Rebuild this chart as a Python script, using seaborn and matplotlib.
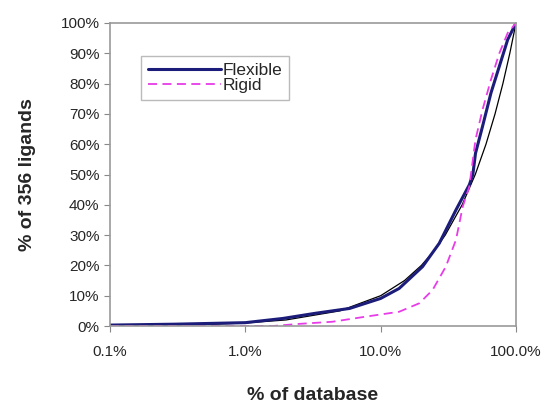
import matplotlib
matplotlib.use("Agg")
import matplotlib.pyplot as plt
import seaborn as sns
import pandas as pd
from matplotlib.ticker import FuncFormatter, FixedLocator

# ── data ───────────────────────────────────────────────────────────────
flex_x = [0.1, 0.3, 1.0, 1.9, 3.3, 5.9, 10.0, 13.7, 20.4, 27.1, 36.0, 45.2,
          48.0, 50.2, 56.6, 65.3, 75.3, 86.8, 100.0]
flex_y = [0.3, 0.6, 1.1, 2.5, 4.2, 5.8, 9.1, 12.4, 19.6, 27.3, 38.3, 46.6,
          50.0, 57.0, 65.9, 76.9, 85.7, 94.5, 100.0]

rigid_x = [0.1, 1.0, 1.6, 2.5, 4.4, 7.8, 13.7, 19.3, 24.2, 30.3, 36.0, 40.4,
           45.2, 50.2, 56.6, 65.3, 75.3, 86.8, 100.0]
rigid_y = [0.0, 0.0, 0.0, 0.7, 1.4, 3.1, 4.7, 7.5, 11.9, 19.6, 28.4, 39.4,
           46.0, 61.5, 71.4, 81.3, 90.0, 96.7, 100.0]

random_x = [0.1, 0.2, 0.5, 1, 2, 5, 10, 15, 20, 25, 30, 40, 50, 60, 70, 80, 90, 100]
random_y = [0.1, 0.2, 0.5, 1, 2, 5, 10, 15, 20, 25, 30, 40, 50, 60, 70, 80, 90, 100]

x_ticks = [0.1, 1.0, 10.0, 100.0]
y_ticks = [0, 10, 20, 30, 40, 50, 60, 70, 80, 90, 100]

# ── plot ───────────────────────────────────────────────────────────────
sns.set_style("white")
plt.rcParams["font.family"] = ["Liberation Sans", "DejaVu Sans"]

fig = plt.figure(figsize=(5.49, 4.07), dpi=100)
ax = fig.add_axes([110 / 549, 1 - 326 / 407, 406 / 549, 303 / 407])

sns.lineplot(x=random_x, y=random_y, ax=ax, color="black", linewidth=0.9,
             sort=False, estimator=None)
sns.lineplot(x=flex_x, y=flex_y, ax=ax, color="#1c1c7a", linewidth=2.2,
             sort=False, estimator=None, label="Flexible")
sns.lineplot(x=rigid_x, y=rigid_y, ax=ax, color="#e83ce8", linewidth=1.3,
             sort=False, estimator=None, label="Rigid")
ax.lines[2].set_dashes([5, 3])

ax.set_xscale("log")
ax.set_xlim(0.1, 100)
ax.set_ylim(0, 100)
ax.xaxis.set_major_locator(FixedLocator(x_ticks))
ax.xaxis.set_minor_locator(FixedLocator([]))
ax.set_yticks(y_ticks)
ax.xaxis.set_major_formatter(FuncFormatter(lambda v, _: f"{v:.1f}%"))
ax.yaxis.set_major_formatter(FuncFormatter(lambda v, _: f"{int(v)}%"))
ax.tick_params(axis="both", labelsize=11, length=4, width=0.8,
               color="#888888", direction="out", bottom=True, left=True)
ax.tick_params(axis="x", pad=10)

for s in ax.spines.values():
    s.set_color("#999999")
    s.set_linewidth(1.2)

ax.set_xlabel("% of database", fontsize=14, fontweight="bold", labelpad=20)
ax.set_ylabel("% of 356 ligands", fontsize=14, fontweight="bold", labelpad=18)

leg = ax.legend(loc="upper left", bbox_to_anchor=(0.055, 0.92), fontsize=12.5,
                frameon=True, fancybox=False, handlelength=4.2,
                handletextpad=0.1, borderpad=0.4, labelspacing=0.0)
leg.get_frame().set_edgecolor("#aaaaaa")
leg.get_frame().set_linewidth(1.0)

fig.savefig("out.png", dpi=100)
